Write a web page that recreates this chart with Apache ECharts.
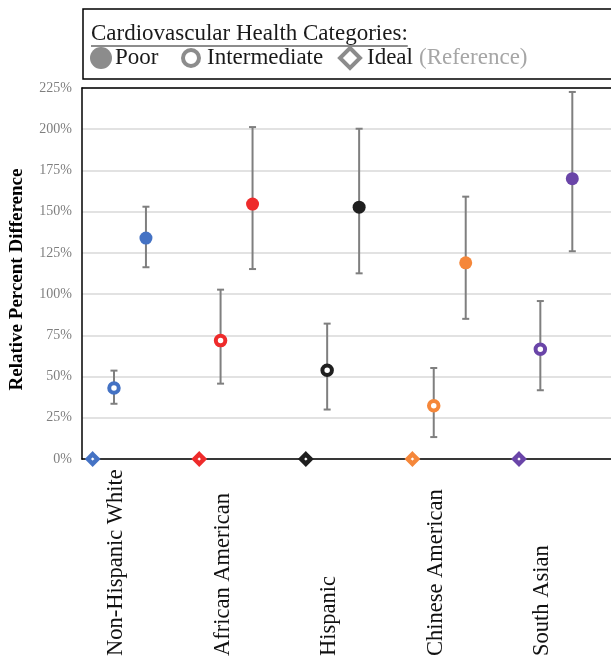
<!DOCTYPE html>
<html>
<head>
<meta charset="utf-8">
<script src="https://cdn.jsdelivr.net/npm/echarts@6/dist/echarts.min.js"></script>
<style>html,body{margin:0;padding:0;background:#fff;}#main{width:611px;height:659px;}</style>
</head>
<body>
<div id="main"></div>
<script>
var categories = ['Non-Hispanic White', 'African American', 'Hispanic', 'Chinese American', 'South Asian'];
var colors = ['#4472C4', '#EE2B2B', '#1F1F1F', '#F5873A', '#6A45A8'];
var poor = [134, 154.6, 152.7, 119, 170];
var poorLow = [116.3, 115.2, 112.6, 85, 126];
var poorHigh = [153, 201.3, 200.3, 159.1, 222.6];
var inter = [43, 71.8, 53.8, 32.3, 66.5];
var interLow = [33.5, 45.7, 30, 13.3, 41.7];
var interHigh = [53.6, 102.7, 82.1, 55.2, 95.8];
var ideal = [0, 0, 0, 0, 0];

var OFF_IDEAL = 0.1, OFF_INTER = 0.3, OFF_POOR = 0.6, OFF_LABEL = 0.32;
var FONT = "'Liberation Serif', 'Times New Roman', serif";

var errData = [];
categories.forEach(function (c, i) {
  errData.push([i + OFF_INTER, interLow[i], interHigh[i]]);
  errData.push([i + OFF_POOR, poorLow[i], poorHigh[i]]);
});

var chart = echarts.init(document.getElementById('main'));

function measure(text, font) {
  var cv = document.createElement('canvas').getContext('2d');
  cv.font = font;
  return cv.measureText(text).width;
}
var LFONT = '23px ' + FONT;
var titleText = 'Cardiovascular Health Categories:';
var titleW = measure(titleText, LFONT);
var legendGray = '#8C8C8C';

var option = {
  animation: false,
  backgroundColor: '#fff',
  grid: { left: 80, top: 88, right: 0, height: 371, show: false },
  xAxis: [{
    type: 'value', min: 0, max: 4.963,
    axisLine: { show: true, onZero: false, lineStyle: { color: '#000', width: 1.5 } },
    axisTick: { show: false },
    splitLine: { show: false },
    axisLabel: {
      customValues: categories.map(function (c, i) { return i + OFF_LABEL; }),
      formatter: function (v) { return categories[Math.round(v - OFF_LABEL)]; },
      rotate: 90, align: 'left', verticalAlign: 'middle', margin: 197,
      fontFamily: FONT, fontSize: 22.5, color: '#111'
    }
  }, {
    type: 'value', min: 0, max: 4.963, position: 'top',
    axisLine: { show: true, onZero: false, lineStyle: { color: '#000', width: 1.5 } },
    axisTick: { show: false }, axisLabel: { show: false }, splitLine: { show: false }
  }],
  yAxis: {
    type: 'value', min: 0, max: 225, interval: 25,
    name: 'Relative Percent Difference', nameLocation: 'middle', nameGap: 55,
    nameTextStyle: { fontFamily: FONT, fontSize: 19, fontWeight: 'bold', color: '#000', padding: [0, 12, 0, 0] },
    axisLine: { show: true, lineStyle: { color: '#000', width: 1.5 } },
    axisTick: { show: false },
    axisLabel: { formatter: '{value}%', fontFamily: FONT, fontSize: 14, color: '#7F7F7F', margin: 10 },
    splitLine: { show: true, lineStyle: { color: '#D9D9D9', width: 1.5 } }
  },
  series: [
    {
      type: 'custom', name: 'err', z: 2,
      data: errData,
      encode: { x: 0, y: [1, 2] },
      clip: false,
      renderItem: function (params, api) {
        var x = api.value(0);
        var lo = api.coord([x, api.value(1)]);
        var hi = api.coord([x, api.value(2)]);
        var cap = 3.5;
        var st = { stroke: '#7F7F7F', lineWidth: 2 };
        return {
          type: 'group',
          children: [
            { type: 'line', shape: { x1: lo[0], y1: lo[1], x2: hi[0], y2: hi[1] }, style: st },
            { type: 'line', shape: { x1: lo[0] - cap, y1: lo[1], x2: lo[0] + cap, y2: lo[1] }, style: st },
            { type: 'line', shape: { x1: hi[0] - cap, y1: hi[1], x2: hi[0] + cap, y2: hi[1] }, style: st }
          ]
        };
      }
    },
    {
      type: 'scatter', name: 'Poor', z: 5, clip: false,
      symbol: 'circle', symbolSize: 13,
      data: poor.map(function (v, i) { return { value: [i + OFF_POOR, v], itemStyle: { color: colors[i], opacity: 1 } }; })
    },
    {
      type: 'scatter', name: 'Intermediate', z: 5, clip: false,
      symbol: 'circle', symbolSize: 9.5,
      data: inter.map(function (v, i) { return { value: [i + OFF_INTER, v], itemStyle: { color: '#fff', borderColor: colors[i], borderWidth: 4, opacity: 1 } }; })
    },
    {
      type: 'scatter', name: 'Ideal', z: 5, clip: false,
      symbol: 'diamond', symbolSize: 9.5,
      data: ideal.map(function (v, i) { return { value: [i + OFF_IDEAL, v], itemStyle: { color: '#fff', borderColor: colors[i], borderWidth: 4.5, opacity: 1 } }; })
    }
  ],
  graphic: [
    { type: 'rect', shape: { x: 83, y: 9, width: 620, height: 70 }, style: { fill: '#fff', stroke: '#000', lineWidth: 1.5 }, z: 10 },
    { type: 'text', x: 91, y: 34, z: 11, style: { text: titleText, font: LFONT, fill: '#1A1A1A', verticalAlign: 'middle' } },
    { type: 'line', shape: { x1: 91, y1: 46, x2: 91 + titleW, y2: 46 }, style: { stroke: '#1A1A1A', lineWidth: 1 }, z: 11 },
    { type: 'circle', shape: { cx: 101, cy: 58, r: 11 }, style: { fill: legendGray }, z: 11 },
    { type: 'text', x: 115, y: 58, z: 11, style: { text: 'Poor', font: LFONT, fill: '#1A1A1A', verticalAlign: 'middle' } },
    { type: 'circle', shape: { cx: 191, cy: 58, r: 8 }, style: { fill: '#fff', stroke: legendGray, lineWidth: 4 }, z: 11 },
    { type: 'text', x: 207, y: 58, z: 11, style: { text: 'Intermediate', font: LFONT, fill: '#1A1A1A', verticalAlign: 'middle' } },
    { type: 'polygon', shape: { points: [[350, 48], [360, 58], [350, 68], [340, 58]] }, style: { fill: '#fff', stroke: legendGray, lineWidth: 4 }, z: 11 },
    { type: 'text', x: 367, y: 58, z: 11, style: { text: 'Ideal', font: LFONT, fill: '#1A1A1A', verticalAlign: 'middle' } },
    { type: 'text', x: 419, y: 58, z: 11, style: { text: '(Reference)', font: LFONT, fill: '#A6A6A6', verticalAlign: 'middle' } }
  ]
};
chart.setOption(option);
</script>
</body>
</html>
